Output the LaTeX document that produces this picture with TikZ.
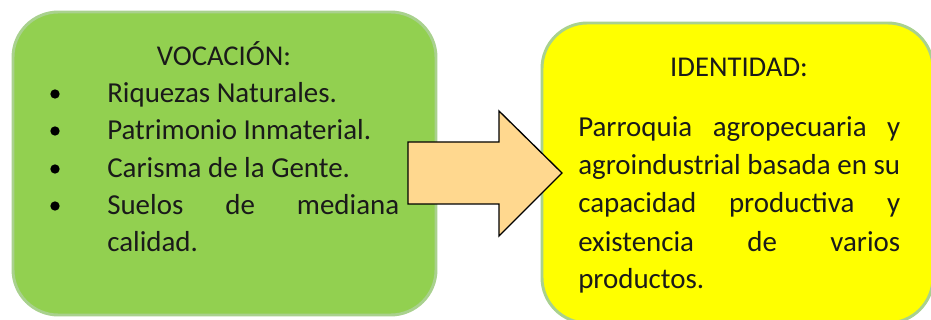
\documentclass[tikz,border=0pt]{standalone}
\usepackage{fontspec}
\setmainfont{Carlito}
\definecolor{boxgreen}{HTML}{92D050}
\definecolor{edgegreen}{HTML}{A9D18E}
\definecolor{boxyellow}{HTML}{FFFF00}
\definecolor{arrowfill}{HTML}{FFD88F}
\definecolor{txt}{HTML}{1A1A1A}
\tikzset{
  card/.style={draw=edgegreen, line width=2.2pt, rounded corners=34pt, inner sep=0pt},
  ttl/.style={font=\fontsize{21.5}{25}\selectfont, text=txt, inner sep=0pt, anchor=base},
  body/.style={font=\fontsize{21.7}{25}\selectfont, text=txt, inner sep=0pt, anchor=base west},
  dot/.style={circle, fill=black, inner sep=0pt, minimum size=7pt},
  bigarrow/.style={draw=black, line width=1pt, fill=arrowfill, line join=miter}
}
\begin{document}
\begin{tikzpicture}[x=0.75pt, y=-0.75pt]
\clip (0,0) rectangle (931,320);
\fill[white] (0,0) rectangle (931,320);
% boxes
\node[card, fill=boxgreen, minimum width=423*0.75pt, minimum height=303*0.75pt] (voc) at (224.5,163.5) {};
\node[card, fill=boxyellow, minimum width=391*0.75pt, minimum height=300*0.75pt] (ide) at (737.5,173) {};
% left text
\node[ttl] (vt) at (224,66) {VOCACIÓN:};
\foreach \y/\n in {103/a,140/b,178/c,215/d} {
  \node[dot] (b\n) at (55,{\y-9}) {};
}
\node[body] (l1) at (107,103) {Riquezas Naturales.};
\node[body] (l2) at (107,140) {Patrimonio Inmaterial.};
\node[body] (l3) at (107,178) {Carisma de la Gente.};
\node[body] (l4) at (107,215) {\hbox to 219pt{Suelos\hfill de\hfill mediana}};
\node[body] (l5) at (107,252) {calidad.};
% right text
\node[ttl] (it) at (739,77) {IDENTIDAD:};
\node[body] (r1) at (578,137) {\hbox to 241.5pt{Parroquia\hfill agropecuaria\hfill y}};
\node[body] (r2) at (578,175) {\hbox to 241.5pt{agroindustrial basada en su}};
\node[body] (r3) at (578,213) {\hbox to 241.5pt{capacidad\hfill productiva\hfill y}};
\node[body] (r4) at (578,252) {\hbox to 241.5pt{existencia\hfill de\hfill varios}};
\node[body] (r5) at (578,288) {productos.};
% arrow
\coordinate (a1) at (408,142);
\coordinate (a2) at (499,142);
\coordinate (a3) at (499,111);
\coordinate (tip) at (562,173);
\coordinate (a5) at (499,236);
\coordinate (a6) at (499,204);
\coordinate (a7) at (408,204);
\draw[bigarrow] (a1) -- (a2) -- (a3) -- (tip) -- (a5) -- (a6) -- (a7) -- cycle;
\end{tikzpicture}
\end{document}
